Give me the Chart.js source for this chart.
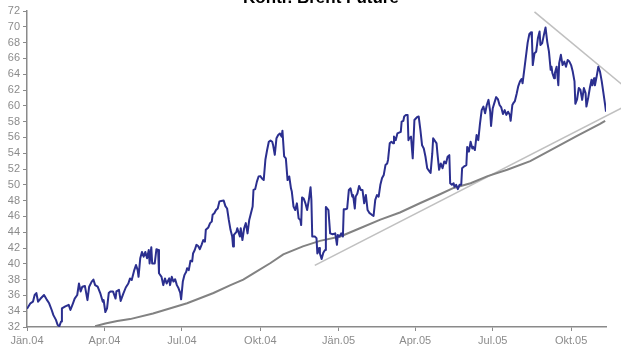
<!DOCTYPE html>
<html>
<head>
<meta charset="utf-8">
<script src="https://cdn.jsdelivr.net/npm/chart.js@4/dist/chart.umd.min.js"></script>
<style>
html,body{margin:0;padding:0;background:#fff;}
#c{display:block;}
</style>
</head>
<body>
<canvas id="c" width="621" height="351"></canvas>
<script>
// Days since 1 Jan 2004
const tickDays = [0, 91, 182, 274, 366, 456, 547, 639];
const tickLabels = ["Jän.04", "Apr.04", "Jul.04", "Okt.04", "Jän.05", "Apr.05", "Jul.05", "Okt.05"];

const brentDays = [0,4,7,9,11,13,16,20,23,26,29,31,34,36,38,40,41,45,49,51,54,56,59,61,63,65,68,71,73,76,78,80,83,86,89,90,92,94,96,98,101,104,105,108,110,113,116,119,121,123,126,128,130,131,133,135,137,139,141,143,144,146,147,150,152,154,155,158,160,162,164,167,168,170,172,174,176,178,180,181,183,185,187,188,190,192,194,195,197,199,201,203,205,207,209,210,213,215,217,218,220,222,224,226,228,231,233,235,237,239,241,242,243,246,247,250,251,253,255,257,259,261,263,265,266,268,270,272,274,276,278,280,282,284,286,288,289,291,293,295,297,299,300,302,304,306,308,310,311,313,315,317,319,321,322,323,325,327,329,331,333,334,335,338,340,341,343,344,346,348,350,351,354,356,359,362,364,365,367,369,371,372,374,376,378,380,382,383,385,386,388,390,392,394,396,398,400,402,405,407,409,411,413,415,417,419,421,423,424,426,428,430,431,433,435,437,439,440,442,443,445,447,448,449,451,453,455,458,460,462,464,466,468,470,472,474,476,477,481,482,484,486,488,490,492,494,496,497,499,501,502,504,506,508,510,511,513,516,517,519,521,523,524,526,528,530,532,534,536,538,540,542,544,545,547,549,551,553,555,557,559,561,563,565,567,568,570,571,573,575,577,579,581,582,584,586,588,590,592,593,594,596,598,600,602,603,605,607,609,611,613,615,616,617,619,620,622,624,625,627,629,631,633,635,637,639,641,643,644,646,648,650,652,654,656,657,659,661,663,664,666,667,669,671,673,675,677,679,680];
const brentValues = [34.3,35.0,35.2,36.05,36.3,35.2,35.6,36.05,35.5,35.0,34.15,33.5,32.9,32.25,32.1,32.7,34.35,34.6,34.8,34.15,35.0,35.6,36.05,37.5,36.5,37.1,37.2,35.4,37.1,37.75,38.0,37.3,37.1,36.3,35.2,35.4,33.9,34.35,36.3,36.5,36.5,35.6,36.5,36.7,35.3,36.2,37.0,37.5,38.15,37.95,39.2,39.85,39.2,38.35,40.7,41.5,40.9,41.5,40.7,41.75,40.05,42.1,40.05,40.05,41.85,41.75,38.8,38.35,37.3,38.15,37.5,38.15,37.3,38.35,37.75,38.05,37.3,36.9,36.3,35.5,37.75,38.6,39.0,39.45,39.2,40.4,40.3,41.3,41.75,42.4,42.25,41.85,42.4,43.0,42.8,44.3,44.6,45.15,45.35,46.2,46.4,46.8,47.0,47.9,47.95,48.0,47.3,47.0,45.55,44.3,43.45,42.2,43.65,44.05,44.5,43.45,44.5,43.0,44.5,45.15,43.85,45.55,46.4,47.25,49.35,49.45,50.4,51.05,51.1,50.8,50.6,53.2,54.4,55.45,55.6,55.45,55.05,53.8,55.9,56.3,56.5,56.1,56.85,53.6,53.35,50.6,51.05,49.55,49.15,47.25,46.8,47.65,45.75,45.55,44.9,48.4,48.25,47.65,46.8,48.1,49.7,48.1,43.45,43.45,43.25,41.3,42.0,41.3,40.6,41.4,41.75,47.2,46.8,43.85,43.75,43.85,42.4,43.65,43.45,43.85,43.45,46.9,46.9,47.0,49.35,49.55,48.5,48.7,47.0,48.5,48.9,49.85,49.35,49.35,47.65,48.7,46.8,46.45,46.2,46.05,48.1,48.7,48.5,50.0,50.85,51.25,52.5,52.7,53.15,55.25,55.45,55.25,56.1,55.65,56.5,56.6,56.7,58.0,58.1,58.65,58.85,58.85,55.65,55.9,56.1,53.35,58.2,58.55,58.65,56.95,55.0,54.6,53.55,52.1,51.8,51.5,54.0,55.9,55.25,54.0,51.9,52.7,52.1,52.95,52.7,53.55,53.75,50.2,50.0,50.2,49.75,50.0,49.45,50.0,50.0,52.1,52.3,52.5,54.8,54.2,55.45,54.6,54.8,54.4,56.3,55.65,57.75,59.45,59.9,59.05,60.1,60.75,59.25,57.45,59.7,60.4,61.1,60.85,60.1,59.8,58.95,59.45,58.85,59.25,58.85,58.1,60.1,60.3,60.6,61.5,62.5,63.1,63.4,62.85,64.55,66.3,68.0,69.1,69.3,68.55,65.15,66.65,66.85,68.55,69.4,67.7,67.9,68.95,69.9,68.1,66.85,64.55,64.95,64.15,63.5,64.15,64.95,62.6,65.4,66.45,65.15,65.6,64.95,65.8,65.6,65.15,64.3,63.1,60.25,60.8,62.25,62.0,60.75,62.25,61.6,59.9,60.95,62.25,63.3,62.6,63.5,62.6,63.7,64.95,64.3,63.1,61.6,60.1,59.25];

const grayDays = [80,92,106,121,148,188,219,239,254,266,286,301,324,344,368,391,415,438,462,485,501,521,541,564,591,615,646,673,679];
const grayValues = [32.1,32.45,32.75,33.0,33.7,35.0,36.3,37.3,38.0,38.8,40.1,41.2,42.2,42.9,43.45,44.5,45.6,46.5,47.7,48.8,49.6,50.2,51.1,51.9,53.0,54.4,56.2,57.7,58.1];

const trendLowDays = [338, 698];
const trendLowValues = [39.8, 59.7];
const trendHighDays = [596, 698];
const trendHighValues = [71.9, 62.76];

const yMin = 32, yMax = 72, yStep = 2;
const xMax = 680;
const titleText = "Kontr. Brent Future";

function pts(xs, ys){ return xs.map((x,i)=>({x:x, y:ys[i]})); }

const titlePlugin = {
  id: 'cutTitle',
  afterDraw(chart){
    const ctx = chart.ctx;
    ctx.save();
    ctx.font = 'bold 17px "Liberation Sans", Arial, sans-serif';
    ctx.fillStyle = '#000';
    ctx.textAlign = 'center';
    ctx.textBaseline = 'alphabetic';
    ctx.fillText(titleText, 321, 3);
    ctx.restore();
  }
};

const labelFont = {family: '"Liberation Sans", Arial, sans-serif', size: 11};
const axisColor = '#8a8a8a';
const labelColor = '#8c8c8c';

new Chart(document.getElementById('c'), {
  type: 'line',
  data: {
    datasets: [
      {data: pts(brentDays, brentValues), borderColor: '#2b2f8f', borderWidth: 2, pointRadius: 0, tension: 0, borderJoinStyle: 'round'},
      {data: pts(grayDays, grayValues), borderColor: '#828282', borderWidth: 2, pointRadius: 0, tension: 0},
      {data: pts(trendLowDays, trendLowValues), borderColor: '#c0c0c0', borderWidth: 1.6, pointRadius: 0, clip: false},
      {data: pts(trendHighDays, trendHighValues), borderColor: '#c0c0c0', borderWidth: 1.6, pointRadius: 0, clip: false}
    ]
  },
  options: {
    responsive: false,
    animation: false,
    events: [],
    layout: {padding: {top: 11, right: 15, left: 0, bottom: 0}},
    plugins: {legend: {display: false}, tooltip: {enabled: false}, title: {display: false}},
    scales: {
      x: {
        type: 'linear', min: 0, max: xMax,
        afterFit(s){ s.height = 24; },
        afterBuildTicks(s){ s.ticks = tickDays.map(v => ({value: v})); },
        grid: {drawOnChartArea: false, drawTicks: true, tickLength: 4, color: axisColor},
        border: {color: axisColor, width: 1.5},
        ticks: {autoSkip: false, maxRotation: 0, padding: 3, color: labelColor, font: labelFont,
          callback: (v, i) => tickLabels[i]}
      },
      y: {
        type: 'linear', min: yMin, max: yMax,
        afterFit(s){ s.width = 27; },
        grid: {drawOnChartArea: false, drawTicks: true, tickLength: 4, color: axisColor},
        border: {color: axisColor, width: 1.5},
        ticks: {stepSize: yStep, autoSkip: false, maxTicksLimit: 30, padding: 3, color: labelColor, font: labelFont}
      }
    }
  },
  plugins: [titlePlugin]
});
</script>
</body>
</html>
